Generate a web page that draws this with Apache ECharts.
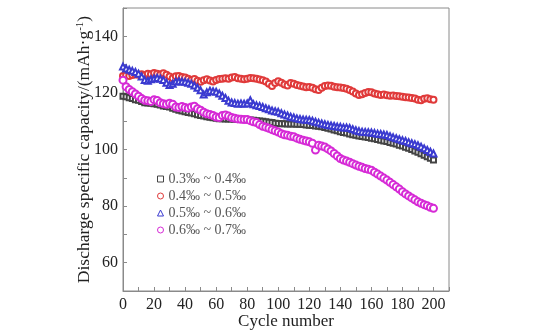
<!DOCTYPE html>
<html><head><meta charset="utf-8">
<script src="https://cdn.jsdelivr.net/npm/echarts@6/dist/echarts.min.js"></script>
<style>html,body{margin:0;padding:0;background:#fff}#c{width:545px;height:334px}</style>
</head><body><div id="c"></div>
<script>
// cycle numbers (every 2 cycles)
const cycles = [];
for (let c = 0; c <= 200; c += 2) cycles.push(c);
const seriesNames = ['0.3‰ ~ 0.4‰','0.4‰ ~ 0.5‰','0.5‰ ~ 0.6‰','0.6‰ ~ 0.7‰'];
const s1 = [118.8,118.6,118.3,118.0,117.6,117.4,117.0,116.5,116.4,116.3,116.2,116.0,115.7,115.4,115.2,115.0,114.6,114.2,113.9,113.6,113.3,113.1,112.9,112.6,112.3,112.0,111.8,111.6,111.4,111.2,111.0,110.9,110.9,110.8,110.8,110.8,110.7,110.7,110.6,110.6,110.6,110.4,110.3,110.2,110.1,110.0,109.8,109.6,109.5,109.3,109.2,109.1,109.1,109.0,109.0,109.0,108.9,108.9,108.8,108.7,108.6,108.5,108.3,108.2,108.0,107.8,107.5,107.2,106.9,106.6,106.3,106.0,105.8,105.5,105.2,105.0,104.8,104.6,104.4,104.2,104.0,103.8,103.5,103.3,103.0,102.8,102.5,102.2,101.9,101.5,101.2,100.8,100.4,100.0,99.5,99.0,98.5,98.0,97.4,96.9,96.3];
const s2 = [126.0,126.2,126.0,126.3,126.5,126.4,126.6,126.2,126.8,126.6,127.0,126.8,126.5,126.9,126.4,125.8,125.2,125.9,126.0,125.6,125.4,125.0,124.6,124.9,124.3,123.9,124.5,124.8,124.4,124.0,124.6,124.9,125.0,125.2,125.0,125.4,125.6,125.2,125.0,124.8,125.0,125.3,125.2,125.0,124.7,124.5,124.0,123.2,122.4,123.5,124.1,123.6,123.0,122.6,123.5,123.2,122.8,122.5,122.3,122.0,122.1,121.8,121.3,121.0,121.8,122.4,122.6,122.5,122.2,122.0,121.9,121.7,121.5,121.0,120.5,119.8,119.3,119.5,120.0,120.3,120.2,119.8,119.5,119.3,119.4,119.2,119.0,119.1,118.9,118.8,118.6,118.5,118.4,118.2,118.0,117.6,117.4,117.9,118.1,117.8,117.6];
const s3 = [129.3,128.6,128.2,127.8,127.4,126.8,125.8,124.6,124.3,124.8,125.1,125.3,125.0,124.6,123.6,122.8,123.2,124.0,124.1,124.0,123.9,123.6,123.2,122.6,121.8,120.9,119.4,120.2,120.8,120.6,120.4,119.8,119.0,118.2,117.2,116.6,116.4,116.2,116.3,116.2,116.3,117.4,116.0,115.6,115.4,115.0,114.6,114.2,113.8,113.5,113.3,112.8,112.4,112.0,111.6,111.3,111.0,110.8,110.6,110.5,110.4,110.2,109.8,109.5,109.2,108.9,108.7,108.5,108.3,108.1,108.0,107.8,107.8,107.6,107.2,106.8,106.5,106.3,106.2,106.1,106.0,105.8,105.6,105.5,105.3,105.1,104.7,104.3,104.0,103.6,103.3,103.0,102.6,102.2,101.9,101.5,101.0,100.4,99.8,99.2,98.6];
const s4 = [124.5,122.2,121.2,120.4,119.6,118.8,118.0,117.4,117.2,117.0,117.6,117.3,116.5,116.2,116.0,116.3,116.0,115.0,114.8,115.2,114.8,114.6,115.0,115.3,114.4,113.9,113.2,112.6,112.4,112.0,111.5,111.3,112.0,112.2,111.8,111.3,111.0,110.8,110.7,110.6,110.6,110.2,109.8,109.5,108.8,108.2,107.9,107.5,107.0,106.6,106.2,105.6,105.2,105.0,104.7,104.5,104.0,103.6,103.3,103.0,102.7,102.2,99.8,101.5,101.2,100.9,100.2,99.5,98.6,97.7,96.8,96.3,95.9,95.5,95.0,94.5,94.1,93.7,93.3,93.0,92.7,92.0,91.3,90.6,89.9,89.2,88.4,87.6,86.8,86.0,85.1,84.3,83.6,82.9,82.2,81.5,81.0,80.5,80.1,79.6,79.2];
const yTicks = [60,80,100,120,140];
const xTicks = [0,20,40,60,80,100,120,140,160,180,200];

const colors = ['#444444','#e03a3a','#3a3ad0','#d62ad6'];
const symbols = ['emptyRect','emptyCircle','emptyTriangle','emptyCircle'];
const sizes = [5,6,6,7];
const all = [s1,s2,s3,s4];

const chart = echarts.init(document.getElementById('c'));
const serif = 'Liberation Serif, Times New Roman, serif';
chart.setOption({
  animation:false,
  backgroundColor:'#fff',
  grid:{left:123,right:96,top:8,bottom:43,show:true,borderColor:'#8a8a8a',borderWidth:1,
        containLabel:false, outerBoundsMode:'none'},
  legend:{
    orient:'vertical', left:152, top:167, itemGap:3, itemWidth:6, itemHeight:6,
    textStyle:{fontFamily:serif,fontSize:14,color:'#555'},
    data: seriesNames.map((n,i)=>({name:n, icon: i===2?'triangle':(i===0?'rect':'circle'),
      itemStyle:{color:'#fff',borderColor:colors[i],borderWidth:1}}))
  },
  xAxis:{
    type:'value', min:0, max:210, interval:10,
    name:'Cycle number', nameLocation:'middle', nameGap:22, nameMoveOverlap:false,
    nameTextStyle:{fontFamily:serif,fontSize:17,color:'#222'},
    axisLine:{show:true,onZero:false,lineStyle:{color:'#8a8a8a'}},
    axisTick:{show:true,inside:true,length:4,lineStyle:{color:'#8a8a8a'}},
    axisLabel:{margin:6,fontFamily:serif,fontSize:16,color:'#222',
      formatter:v=>xTicks.includes(v)?String(v):''},
    splitLine:{show:false}
  },
  yAxis:{
    type:'value', min:50, max:150, interval:10,
    name:'Discharge specific capacity/(mAh·g{sup|-1})', nameLocation:'middle', nameGap:29, nameMoveOverlap:false,
    nameTextStyle:{fontFamily:serif,fontSize:17.5,color:'#222',
      rich:{sup:{fontFamily:serif,fontSize:11,color:'#222',verticalAlign:'top',padding:[0,0,8,0]}}},
    axisLine:{show:true,onZero:false,lineStyle:{color:'#8a8a8a'}},
    axisTick:{show:true,inside:true,length:4,lineStyle:{color:'#8a8a8a'}},
    axisLabel:{margin:5,fontFamily:serif,fontSize:16,color:'#222',
      formatter:v=>yTicks.includes(v)?String(v):''},
    splitLine:{show:false}
  },
  series: all.map((arr,i)=>({
    name:seriesNames[i], type:'line',
    data: cycles.map((c,k)=>[c,arr[k]]),
    symbol:symbols[i], symbolSize:sizes[i], showAllSymbol:true,
    itemStyle:{color:colors[i],borderColor:colors[i],borderWidth:1},
    lineStyle:{color:colors[i],width:0.8,opacity:0.8},
    z: i===0?2:3
  }))
});
</script></body></html>
